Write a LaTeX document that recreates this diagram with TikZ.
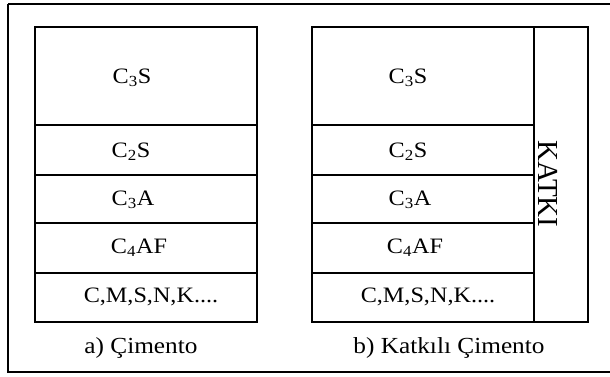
\documentclass[tikz,border=0pt]{standalone}
\usepackage{fontspec}
\setmainfont{Liberation Serif}[FakeStretch=1.1]
\newfontfamily\katkifont{Liberation Serif}
\begin{document}
\begin{tikzpicture}[x=1pt,y=-1pt,
  frame/.style={draw=black,line width=2.8pt},
  cell/.style={draw=black,line width=2.8pt},
  lbl/.style={font=\fontsize{22}{26}\selectfont,inner sep=0pt},
  captxt/.style={font=\fontsize{23}{27}\selectfont,inner sep=0pt}]
\useasboundingbox (0,0) rectangle (610,376);
\fill[white] (0,0) rectangle (610,376);
\draw[frame] (8,4) -- (620,4);
\draw[frame] (620,372) -- (8,372) -- (8,4);
\foreach \t/\b [count=\i] in {27/125,125/175,175/223,223/273,273/322}{
  \draw[cell] (35,\t) rectangle (257,\b);
  \draw[cell] (312,\t) rectangle (534,\b);
}
\draw[cell] (534,27) rectangle (588,322);
\node[lbl] (a1) at (132,78) {C\textsubscript{3}S};
\node[lbl] (a2) at (131,152) {C\textsubscript{2}S};
\node[lbl] (a3) at (133,200) {C\textsubscript{3}A};
\node[lbl] (a4) at (139,248) {C\textsubscript{4}AF};
\node[lbl] (a5) at (151,297) {C,M,S,N,K....};
\node[captxt] (ac) at (141,348) {a) Çimento};
\node[lbl] (b1) at (408,78) {C\textsubscript{3}S};
\node[lbl] (b2) at (408,152) {C\textsubscript{2}S};
\node[lbl] (b3) at (410,200) {C\textsubscript{3}A};
\node[lbl] (b4) at (415,248) {C\textsubscript{4}AF};
\node[lbl] (b5) at (428,297) {C,M,S,N,K....};
\node[captxt] (bc) at (449,348) {b) Katkılı Çimento};
\node[font=\katkifont\fontsize{29}{32}\selectfont,inner sep=0pt,rotate=-90] (k) at (548,184) {KATKI};
\end{tikzpicture}
\end{document}
